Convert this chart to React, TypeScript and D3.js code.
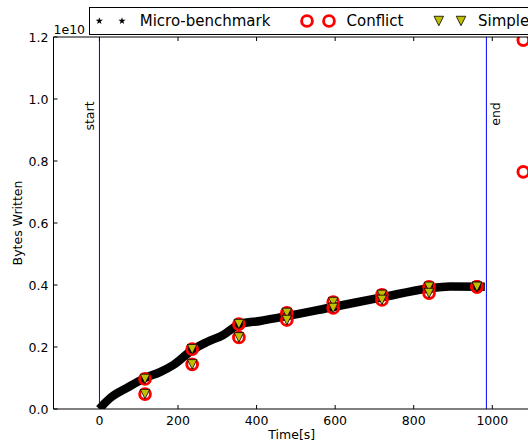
import React from "react";
import * as d3 from "d3";

// Micro-benchmark trace: time [s] and bytes written (units of 1e10)
const microTime = [0, 2, 27, 70, 116, 154, 188, 236, 274, 315, 358, 409, 467, 595, 722, 834, 892, 981];
const microBytes = [0, 0.003, 0.035, 0.068, 0.1, 0.119, 0.142, 0.19, 0.216, 0.239, 0.274, 0.284, 0.297, 0.329, 0.361, 0.388, 0.395, 0.394];

// Conflict model predictions
const conflictTime = [116, 116, 236, 236, 355, 355, 477, 477, 595, 595, 719, 719, 839, 839, 961, 961, 1079, 1079];
const conflictBytes = [0.097, 0.048, 0.193, 0.144, 0.274, 0.231, 0.31, 0.287, 0.345, 0.326, 0.368, 0.352, 0.394, 0.374, 0.394, 0.394, 1.19, 0.765];

// Simple model predictions
const simpleTime = [116, 116, 236, 236, 355, 355, 477, 477, 595, 595, 719, 719, 839, 839, 961, 961];
const simpleBytes = [0.097, 0.048, 0.193, 0.144, 0.274, 0.231, 0.31, 0.287, 0.345, 0.326, 0.368, 0.352, 0.394, 0.374, 0.394, 0.394];

const xTicks = [0, 200, 400, 600, 800, 1000];
const yTicks = [0, 0.2, 0.4, 0.6, 0.8, 1.0, 1.2];
const markers = [
  { label: "start", time: 0 },
  { label: "end", time: 985 },
];
const legendLabels = ["Micro-benchmark", "Conflict", "Simple"];

const W = 528;
const H = 446;
const plot = { left: 53.5, right: 530, top: 37, bottom: 409 };
const FONT = "DejaVu Sans, sans-serif";

export default function App() {
  const x = d3.scaleLinear().domain([-117, 1096]).range([plot.left, plot.right]);
  const y = d3.scaleLinear().domain([0, 1.2]).range([plot.bottom, plot.top]);

  const microPts: [number, number][] = microTime.map((t, i) => [t, microBytes[i]]);
  const line = d3
    .line<[number, number]>()
    .x((d) => x(d[0]))
    .y((d) => y(d[1]))
    .curve(d3.curveMonotoneX);

  const tri = (cx: number, cy: number, s: number) =>
    `M${cx - s / 2},${cy - s / 2}L${cx + s / 2},${cy - s / 2}L${cx},${cy + s / 2}Z`;
  const star = d3.symbol(d3.symbolStar, 16)();

  const tickLen = 4;
  const legendY = 21;
  const legendTextY = 26.3;

  return (
    <svg
      width={W}
      height={H}
      style={{ position: "absolute", left: 0, top: 0, display: "block", background: "#fff" }}
      fontFamily={FONT}
    >
      <defs>
        <clipPath id="plotArea">
          <rect x={plot.left} y={plot.top} width={plot.right - plot.left} height={plot.bottom - plot.top} />
        </clipPath>
      </defs>
      <rect x={0} y={0} width={W} height={H} fill="#fff" />

      <g clipPath="url(#plotArea)">
        {/* start / end markers */}
        {markers.map((m) => (
          <line
            key={m.label}
            x1={x(m.time)}
            x2={x(m.time)}
            y1={plot.top}
            y2={plot.bottom}
            stroke="#0000ff"
            strokeWidth={1}
          />
        ))}
        {/* micro-benchmark trace */}
        <path d={line(microPts) ?? ""} fill="none" stroke="#000" strokeWidth={8.5} strokeLinejoin="round" />
        {/* conflict model */}
        {conflictTime.map((t, i) => (
          <circle
            key={"c" + i}
            cx={x(t)}
            cy={y(conflictBytes[i])}
            r={5.4}
            fill="none"
            stroke="#ff0000"
            strokeWidth={2.9}
          />
        ))}
        {/* simple model */}
        {simpleTime.map((t, i) => (
          <path key={"s" + i} d={tri(x(t), y(simpleBytes[i]), 9.5)} fill="#bfbf00" stroke="#000" strokeWidth={0.8} />
        ))}
      </g>

      {/* start / end labels */}
      <text
        transform={`translate(${x(0) - 5.5},116) rotate(-90)`}
        textAnchor="middle"
        fontSize={12.5}
        fill="#000"
      >
        {markers[0].label}
      </text>
      <text
        transform={`translate(${x(985) + 14},114) rotate(-90)`}
        textAnchor="middle"
        fontSize={12.5}
        fill="#000"
      >
        {markers[1].label}
      </text>

      {/* axes frame */}
      <line x1={plot.left} x2={plot.right} y1={plot.bottom} y2={plot.bottom} stroke="#000" strokeWidth={1} />
      <line x1={plot.left} x2={plot.right} y1={plot.top} y2={plot.top} stroke="#000" strokeWidth={1} />
      <line x1={plot.left} x2={plot.left} y1={plot.top} y2={plot.bottom} stroke="#000" strokeWidth={1} />

      {/* x ticks */}
      {xTicks.map((t) => (
        <g key={"xt" + t}>
          <line x1={x(t)} x2={x(t)} y1={plot.bottom} y2={plot.bottom - tickLen} stroke="#000" />
          <line x1={x(t)} x2={x(t)} y1={plot.top} y2={plot.top + tickLen} stroke="#000" />
          <text x={x(t)} y={plot.bottom + 16} textAnchor="middle" fontSize={12.5} fill="#000">
            {t}
          </text>
        </g>
      ))}
      {/* y ticks */}
      {yTicks.map((t) => (
        <g key={"yt" + t}>
          <line x1={plot.left} x2={plot.left + tickLen} y1={y(t)} y2={y(t)} stroke="#000" />
          <text x={plot.left - 5} y={y(t) + 4.5} textAnchor="end" fontSize={12.5} fill="#000">
            {t.toFixed(1)}
          </text>
        </g>
      ))}
      <text x={plot.left} y={34} fontSize={12.5} fill="#000">
        1e10
      </text>

      {/* axis titles */}
      <text x={(plot.left + plot.right) / 2} y={439} textAnchor="middle" fontSize={12.5} fill="#000">
        Time[s]
      </text>
      <text
        transform={`translate(22,${(plot.top + plot.bottom) / 2}) rotate(-90)`}
        textAnchor="middle"
        fontSize={12.5}
        fill="#000"
      >
        Bytes Written
      </text>

      {/* legend */}
      <rect x={89.5} y={7.5} width={600} height={27} fill="#fff" stroke="#000" strokeWidth={1} />
      {[99.3, 122].map((cx) => (
        <path key={"ls" + cx} d={star ?? ""} transform={`translate(${cx},${legendY})`} fill="#000" />
      ))}
      <text x={139.7} y={legendTextY} fontSize={15} fill="#000">
        {legendLabels[0]}
      </text>
      {[307, 329].map((cx) => (
        <circle key={"lc" + cx} cx={cx} cy={legendY} r={5.4} fill="none" stroke="#ff0000" strokeWidth={2.9} />
      ))}
      <text x={346.5} y={legendTextY} fontSize={15} fill="#000">
        {legendLabels[1]}
      </text>
      {[438.8, 461].map((cx) => (
        <path key={"lt" + cx} d={tri(cx, legendY, 9.5)} fill="#bfbf00" stroke="#000" strokeWidth={0.8} />
      ))}
      <text x={478} y={legendTextY} fontSize={15} fill="#000">
        {legendLabels[2]}
      </text>
    </svg>
  );
}
